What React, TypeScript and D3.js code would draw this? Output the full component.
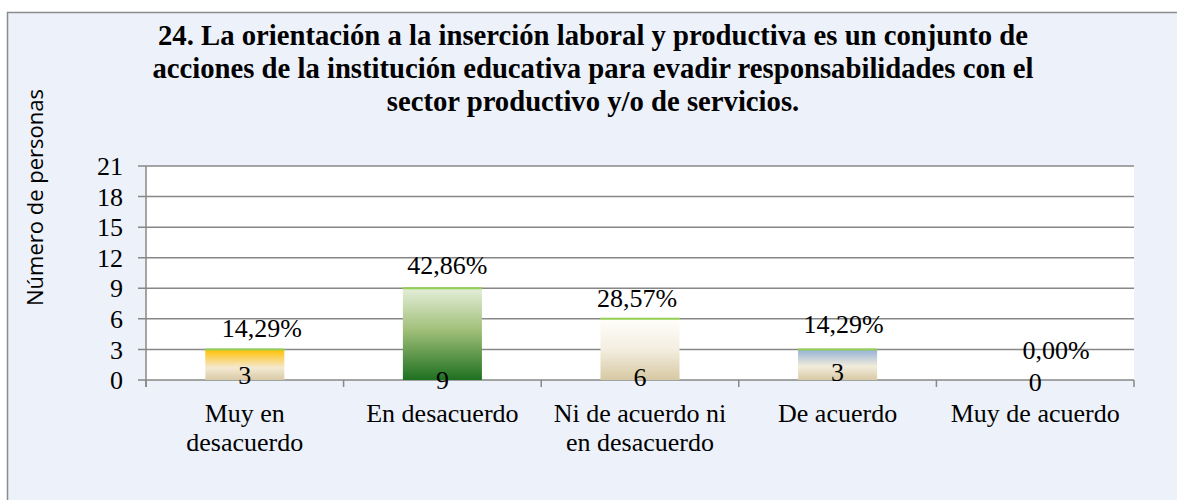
import React from "react";
import * as d3 from "d3";

const categories = [
  ["Muy en", "desacuerdo"],
  ["En desacuerdo"],
  ["Ni de acuerdo ni", "en desacuerdo"],
  ["De acuerdo"],
  ["Muy de acuerdo"],
];
const counts = [3, 9, 6, 3, 0];
const yTicks = [0, 3, 6, 9, 12, 15, 18, 21];
const titleLines = [
  "24. La orientación a la inserción laboral y productiva es un conjunto de",
  "acciones de la institución educativa para evadir responsabilidades con el",
  "sector productivo y/o de servicios.",
];
const yTitle = "Número de personas";

// gradient stops per bar [offset, color]
const gradients: [number, string][][] = [
  [[0, "#ffc000"], [0.6, "#f4e9d2"], [1, "#d8caa6"]],
  [[0, "#e4eed9"], [0.45, "#a2c07a"], [1, "#1e7020"]],
  [[0, "#fffefa"], [0.5, "#f3eee0"], [1, "#d6c8a2"]],
  [[0, "#93b1d6"], [0.55, "#f2ecdb"], [1, "#d8caa6"]],
  [[0, "#ffffff"], [1, "#d8caa6"]],
];

// layout tweaks for label placement (px)
const pctDx = [17, 5, -3, 6, 21];
const pctAbove = [22, 23, 21, 26, 30];
const countDy = [-5, 0, -3, -8, 2];

const W = 1177;
const H = 500;
const plot = { left: 146, right: 1134, top: 166, bottom: 380 };
const serif = "'Liberation Serif', 'Times New Roman', serif";
const sans = "'Open Sans', 'Noto Sans', sans-serif";
const fs = 26;

export default function App() {
  const total = d3.sum(counts);
  const x = d3
    .scaleBand<number>()
    .domain(counts.map((_, i) => i))
    .range([plot.left, plot.right])
    .paddingInner(0.6)
    .paddingOuter(0.3);
  const y = d3.scaleLinear().domain([0, 21]).range([plot.bottom, plot.top]);
  const step = x.step();
  const fmt = d3.format(".2f");
  const pct = (v: number) => fmt((v / total) * 100).replace(".", ",") + "%";
  const grid = "#878787";

  return (
    <svg
      width={W}
      height={H}
      style={{ position: "absolute", left: 0, top: 0 }}
      xmlns="http://www.w3.org/2000/svg"
    >
      <defs>
        {gradients.map((g, i) => (
          <linearGradient key={i} id={`g${i}`} x1="0" y1="0" x2="0" y2="1">
            {g.map(([o, c], j) => (
              <stop key={j} offset={o} stopColor={c} />
            ))}
          </linearGradient>
        ))}
      </defs>
      <rect x={0} y={0} width={W} height={H} fill="#ffffff" />
      <rect x={7.5} y={12.5} width={W + 20} height={H + 20} fill="#edf1f9" stroke="#8c8c8c" strokeWidth={1.5} />

      {titleLines.map((t, i) => (
        <text
          key={i}
          x={593}
          y={45 + i * 33}
          textAnchor="middle"
          fontFamily={serif}
          fontWeight="bold"
          fontSize={28.7}
          fill="#000"
        >
          {t}
        </text>
      ))}

      <text
        transform={`translate(43, ${(90 + 305) / 2}) rotate(-90)`}
        textAnchor="middle"
        fontFamily={sans}
        fontSize={22}
        fill="#000"
      >
        {yTitle}
      </text>

      <rect
        x={plot.left}
        y={plot.top}
        width={plot.right - plot.left}
        height={plot.bottom - plot.top}
        fill="#ffffff"
      />

      {yTicks.map((t) => (
        <g key={t}>
          <line x1={plot.left - 8} x2={plot.right} y1={y(t)} y2={y(t)} stroke={grid} strokeWidth={1.5} />
          <text
            x={plot.left - 23}
            y={y(t)}
            dy="0.35em"
            textAnchor="end"
            fontFamily={serif}
            fontSize={fs}
            fill="#000"
          >
            {t}
          </text>
        </g>
      ))}
      <line x1={plot.left} x2={plot.left} y1={plot.top} y2={plot.bottom + 7} stroke={grid} strokeWidth={1.5} />
      {d3.range(counts.length + 1).map((i) => (
        <line
          key={i}
          x1={plot.left + i * step}
          x2={plot.left + i * step}
          y1={plot.bottom}
          y2={plot.bottom + 7}
          stroke={grid}
          strokeWidth={1.5}
        />
      ))}

      {counts.map((v, i) => {
        const bx = x(i)!;
        const bw = x.bandwidth();
        const top = y(v);
        return (
          <g key={i}>
            {v > 0 && (
              <>
                <rect x={bx} y={top} width={bw} height={plot.bottom - top} fill={`url(#g${i})`} />
                <line x1={bx} x2={bx + bw} y1={top} y2={top} stroke="#92d050" strokeWidth={2} />
              </>
            )}
          </g>
        );
      })}

      {counts.map((v, i) => {
        const cx = x(i)! + x.bandwidth() / 2;
        const top = y(v);
        return (
          <g key={i}>
            <text
              x={cx + pctDx[i]}
              y={top - pctAbove[i]}
              dy="0.35em"
              textAnchor="middle"
              fontFamily={serif}
              fontSize={fs}
              fill="#000"
            >
              {pct(v)}
            </text>
            <text
              x={cx}
              y={plot.bottom + countDy[i]}
              dy="0.35em"
              textAnchor="middle"
              fontFamily={serif}
              fontSize={fs}
              fill="#000"
            >
              {v}
            </text>
          </g>
        );
      })}

      {categories.map((lines, i) => {
        const cx = x(i)! + x.bandwidth() / 2;
        return (
          <text key={i} textAnchor="middle" fontFamily={serif} fontSize={fs} fill="#000">
            {lines.map((l, j) => (
              <tspan key={j} x={cx} y={422 + j * 29}>
                {l}
              </tspan>
            ))}
          </text>
        );
      })}
    </svg>
  );
}
